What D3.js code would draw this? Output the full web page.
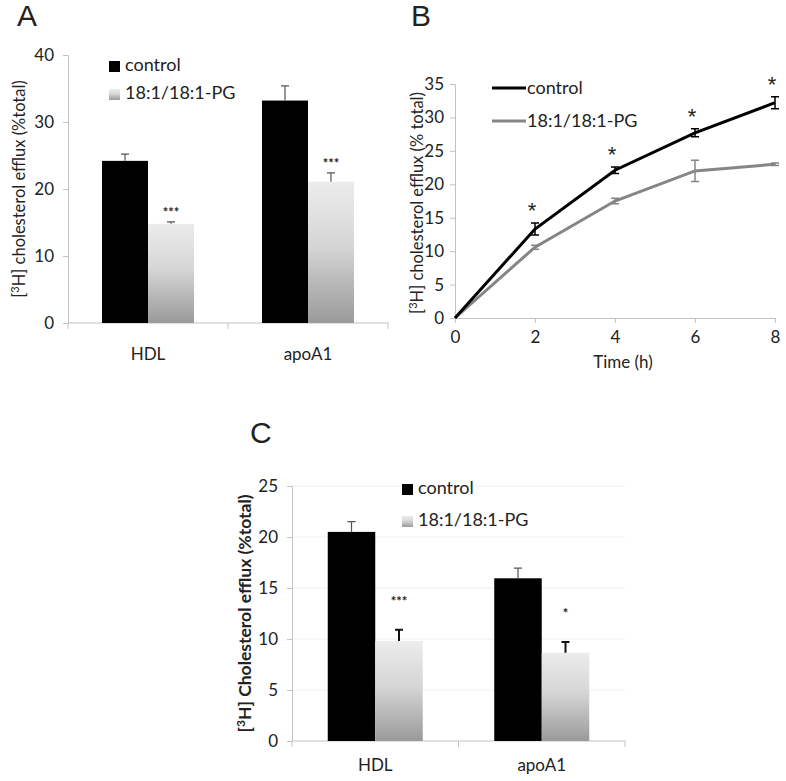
<!DOCTYPE html>
<html>
<head>
<meta charset="utf-8">
<script src="https://cdn.jsdelivr.net/npm/d3@7"></script>
<style>
  body { margin: 0; background: #fff; }
  text { font-family: Lato, "Open Sans", sans-serif; fill: #222; }
</style>
</head>
<body>
<script>
// ---- data ----
const groups = ["HDL", "apoA1"];
const seriesNames = ["control", "18:1/18:1-PG"];

// panel A
const aControl = [24.2, 33.2];
const aControlErr = [1.0, 2.2];
const aPG = [14.8, 21.1];
const aPGErr = [0.3, 1.3];
const aStars = ["***", "***"];
const aTicks = [0, 10, 20, 30, 40];

// panel B
const bTime = [0, 2, 4, 6, 8];
const bControl = [0, 13.3, 22.1, 27.7, 32.2];
const bControlErr = [0, 0.9, 0.5, 0.6, 0.9];
const bPG = [0, 10.6, 17.5, 22.0, 23.0];
const bPGErr = [0, 0.3, 0.4, 1.6, 0.2];
const bStars = ["", "*", "*", "*", "*"];
const bTicks = [0, 5, 10, 15, 20, 25, 30, 35];

// panel C
const cControl = [20.5, 15.95];
const cControlErr = [1.0, 1.0];
const cPG = [9.8, 8.65];
const cPGErr = [1.1, 1.05];
const cStars = ["***", "*"];
const cTicks = [0, 5, 10, 15, 20, 25];

var width = 786, height = 781;
var svg = d3.select("body").append("svg")
  .attr("width", width).attr("height", height);

var defs = svg.append("defs");
var grad = defs.append("linearGradient").attr("id", "pgGrad")
  .attr("x1", 0).attr("y1", 0).attr("x2", 0).attr("y2", 1);
grad.append("stop").attr("offset", "0%").attr("stop-color", "#ececec");
grad.append("stop").attr("offset", "45%").attr("stop-color", "#d6d6d6");
grad.append("stop").attr("offset", "100%").attr("stop-color", "#9a9a9a");

var axisColor = "#c3c3c3";

function styleAxis(g) {
  g.selectAll("path.domain").attr("stroke", axisColor).attr("stroke-width", 1);
  g.selectAll(".tick line").attr("stroke", axisColor);
  g.selectAll(".tick text").style("font-family", "Lato, sans-serif").attr("fill", "#222");
}

// grouped bar panel (A and C)
function barPanel(o) {
  var g = svg.append("g");
  var x = d3.scaleBand().domain(groups).range([o.x0, o.x1]);
  var y = d3.scaleLinear().domain([0, o.ymax]).range([o.y0, o.y1]);
  var bw = o.barW;

  if (o.grid) {
    g.append("g").selectAll("line").data(o.ticks.slice(1)).join("line")
      .attr("x1", o.x0).attr("x2", o.x1)
      .attr("y1", d => y(d)).attr("y2", d => y(d))
      .attr("stroke", "#f0f0f0");
  }

  var ya = g.append("g").attr("transform", `translate(${o.x0},0)`)
    .call(d3.axisLeft(y).tickValues(o.ticks).tickSize(5).tickPadding(o.pad || 9));
  ya.selectAll(".tick text").style("font-size", o.tickFont + "px");
  styleAxis(ya);

  // x axis: line with ticks at category boundaries
  g.append("line").attr("x1", o.x0).attr("x2", o.x1)
    .attr("y1", o.y0).attr("y2", o.y0).attr("stroke", axisColor);
  var bounds = [o.x0].concat(groups.map(d => x(d) + x.bandwidth()));
  g.selectAll("line.xt").data(bounds).join("line").attr("class", "xt")
    .attr("x1", d => d).attr("x2", d => d)
    .attr("y1", o.y0).attr("y2", o.y0 + 6).attr("stroke", axisColor);
  g.selectAll("text.cat").data(groups).join("text").attr("class", "cat")
    .attr("x", d => x(d) + x.bandwidth() / 2).attr("y", o.y0 + o.catDy)
    .attr("text-anchor", "middle").style("font-size", o.tickFont + "px")
    .text(d => d);

  var series = [
    {vals: o.control, err: o.controlErr, fill: "#000", off: -bw, errCol: "#555", errW: 1.2},
    {vals: o.pg, err: o.pgErr, fill: "url(#pgGrad)", off: 0, errCol: o.pgErrCol, errW: o.pgErrW}
  ];
  series.forEach(s => {
    var cx = i => x(groups[i]) + x.bandwidth() / 2 + s.off;
    g.selectAll(null).data(s.vals).join("rect")
      .attr("x", (d, i) => cx(i)).attr("width", bw)
      .attr("y", d => y(d)).attr("height", d => o.y0 - y(d))
      .attr("fill", s.fill);
    // upward error bars
    g.selectAll(null).data(s.vals).join("path")
      .attr("d", (d, i) => {
        var xc = cx(i) + bw / 2, top = y(d + s.err[i]);
        return `M${xc},${y(d)}V${top}M${xc - 4},${top}H${xc + 4}`;
      })
      .attr("stroke", s.errCol).attr("stroke-width", s.errW).attr("fill", "none");
  });

  g.selectAll("text.star").data(o.stars).join("text").attr("class", "star")
    .attr("x", (d, i) => x(groups[i]) + x.bandwidth() / 2 + bw / 2)
    .attr("y", (d, i) => y(o.pg[i] + o.pgErr[i]) - o.starGap)
    .attr("text-anchor", "middle").style("font-size", "13px")
    .style("font-weight", "bold").attr("fill", "#333")
    .text(d => d);

  // legend
  var lg = g.append("g").attr("transform", `translate(${o.legX},${o.legY})`);
  seriesNames.forEach((n, i) => {
    lg.append("rect").attr("x", 0).attr("y", i * o.legStep - 10)
      .attr("width", 11).attr("height", 11)
      .attr("fill", i === 0 ? "#000" : "url(#pgGrad)");
    lg.append("text").attr("x", 16).attr("y", i * o.legStep)
      .style("font-size", o.legFont + "px").text(n);
  });

  // y title
  g.append("text")
    .attr("transform", `translate(${o.titleX},${(o.y0 + o.y1) / 2}) rotate(-90)`)
    .attr("text-anchor", "middle").attr("dy", "0.35em")
    .style("font-size", o.titleFont + "px")
    .style("font-weight", o.titleBold ? "bold" : "normal")
    .html(o.title);

  svg.append("text").attr("x", o.labX).attr("y", o.labY)
    .style("font-size", "30px").style("font-family", "Liberation Sans, Arial, sans-serif")
    .attr("fill", "#000").text(o.label);
}

barPanel({
  x0: 68, x1: 388, y0: 323, y1: 55, ymax: 40, barW: 46,
  ticks: aTicks, tickFont: 17, catDy: 37,
  control: aControl, controlErr: aControlErr, pg: aPG, pgErr: aPGErr,
  pgErrCol: "#555", pgErrW: 1.2,
  stars: aStars, starGap: 5,
  legX: 109, legY: 71, legStep: 28, legFont: 18,
  titleX: 19, titleFont: 16.5, titleBold: false,
  title: '[<tspan dy="-6" font-size="11">3</tspan><tspan dy="6">H] cholesterol efflux (%total)</tspan>',
  labX: 17, labY: 26, label: "A"
});

barPanel({
  x0: 292, x1: 625, y0: 741, y1: 486, ymax: 25, barW: 47.5,
  ticks: cTicks, tickFont: 17, catDy: 30, grid: true,
  control: cControl, controlErr: cControlErr, pg: cPG, pgErr: cPGErr,
  pgErrCol: "#111", pgErrW: 2,
  stars: cStars, starGap: 24,
  legX: 402, legY: 494, legStep: 32, legFont: 18,
  titleX: 245, titleFont: 17.5, titleBold: true,
  title: '[<tspan dy="-6" font-size="12">3</tspan><tspan dy="6">H] Cholesterol efflux (%total)</tspan>',
  labX: 250, labY: 443, label: "C"
});

// ---- panel B: line chart ----
(function () {
  var g = svg.append("g");
  var x = d3.scaleLinear().domain([0, 8]).range([455, 775]);
  var y = d3.scaleLinear().domain([0, 35]).range([318, 84]);

  var ya = g.append("g").attr("transform", "translate(455,0)")
    .call(d3.axisLeft(y).tickValues(bTicks).tickSize(5).tickPadding(6));
  ya.selectAll(".tick text").style("font-size", "17px");
  styleAxis(ya);
  var xa = g.append("g").attr("transform", "translate(0,318)")
    .call(d3.axisBottom(x).tickValues(bTime).tickSize(5).tickPadding(8));
  xa.selectAll(".tick text").style("font-size", "17px");
  styleAxis(xa);

  g.append("text").attr("x", 623).attr("y", 368).attr("text-anchor", "middle")
    .style("font-size", "17px").text("Time (h)");
  g.append("text")
    .attr("transform", "translate(417,203) rotate(-90)")
    .attr("text-anchor", "middle").attr("dy", "0.35em").style("font-size", "16.5px")
    .html('[<tspan dy="-6" font-size="11">3</tspan><tspan dy="6">H] cholesterol efflux (% total)</tspan>');

  var line = d3.line().x((d, i) => x(bTime[i])).y(d => y(d));
  var series = [
    {vals: bPG, err: bPGErr, col: "#858585"},
    {vals: bControl, err: bControlErr, col: "#000"}
  ];
  series.forEach(s => {
    g.append("path").datum(s.vals).attr("d", line)
      .attr("fill", "none").attr("stroke", s.col).attr("stroke-width", 3);
    g.selectAll(null).data(s.vals).join("path")
      .attr("d", (d, i) => {
        if (!s.err[i]) return "";
        var xc = x(bTime[i]), t = y(d + s.err[i]), b = y(d - s.err[i]);
        return `M${xc},${t}V${b}M${xc - 4},${t}H${xc + 4}M${xc - 4},${b}H${xc + 4}`;
      })
      .attr("stroke", s.col).attr("stroke-width", 1.5).attr("fill", "none");
  });

  g.selectAll("text.star").data(bStars).join("text").attr("class", "star")
    .attr("x", (d, i) => x(bTime[i]) - 3)
    .attr("y", (d, i) => y(bControl[i] + bControlErr[i]) - 5)
    .attr("text-anchor", "middle").style("font-size", "22px")
    .style("font-family", "Liberation Sans, Arial, sans-serif")
    .attr("fill", "#000")
    .text(d => d);

  // legend
  var cols = ["#000", "#858585"];
  seriesNames.forEach((n, i) => {
    var ly = 88 + i * 33;
    g.append("line").attr("x1", 492).attr("x2", 526).attr("y1", ly).attr("y2", ly)
      .attr("stroke", cols[i]).attr("stroke-width", 3);
    g.append("text").attr("x", 527).attr("y", ly + 6).style("font-size", "18px").text(n);
  });

  svg.append("text").attr("x", 411).attr("y", 26)
    .style("font-size", "30px").style("font-family", "Liberation Sans, Arial, sans-serif")
    .attr("fill", "#000").text("B");
})();
</script>
</body>
</html>
